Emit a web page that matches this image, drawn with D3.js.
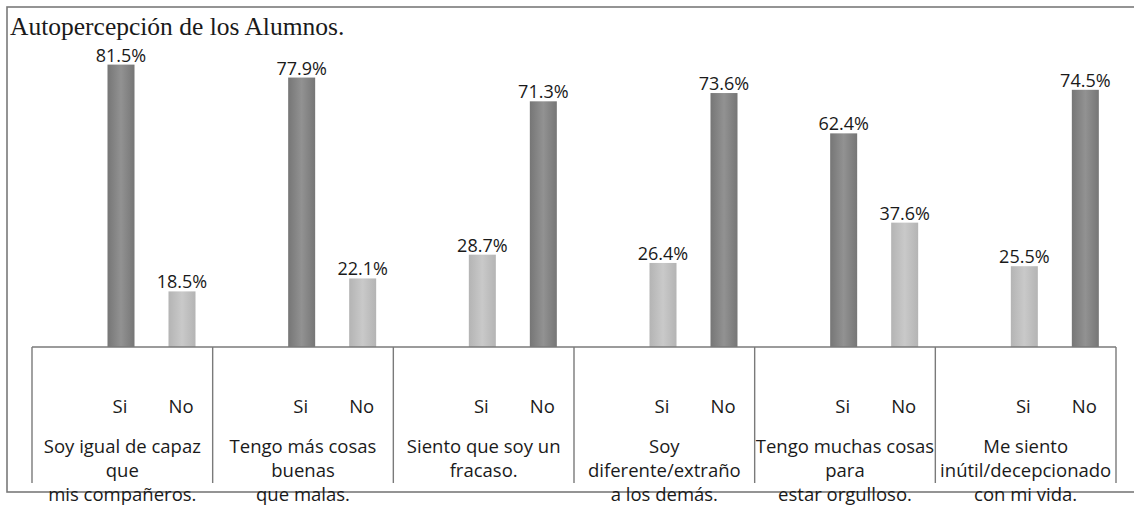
<!DOCTYPE html>
<html><head><meta charset="utf-8">
<script src="https://cdn.jsdelivr.net/npm/d3@7"></script>
<style>body{margin:0;background:#fff}svg{display:block}</style>
</head><body>
<svg id="chart" width="1134" height="509"></svg>
<script>
// ---- data ----
const chartTitle = "Autopercepción de los Alumnos.";
const categories = [
  "Soy igual de capaz que mis compañeros.",
  "Tengo más cosas buenas que malas.",
  "Siento que soy un fracaso.",
  "Soy diferente/extraño a los demás.",
  "Tengo muchas cosas para estar orgulloso.",
  "Me siento inútil/decepcionado con mi vida."
];
const categoryLines = [
  ["Soy igual de capaz", "que", "mis compañeros."],
  ["Tengo más cosas", "buenas", "que malas."],
  ["Siento que soy un", "fracaso."],
  ["Soy", "diferente/extraño", "a los demás."],
  ["Tengo muchas cosas", "para", "estar orgulloso."],
  ["Me siento", "inútil/decepcionado", "con mi vida."]
];
const answers = ["Si", "No"];
const siValues = [81.5, 77.9, 28.7, 26.4, 62.4, 25.5];
const noValues = [18.5, 22.1, 71.3, 73.6, 37.6, 74.5];

// ---- layout ----
const W = 1134, H = 509;
const frame = {x: 7, y: 7, bottom: 492};
const box = {left: 32, right: 1116, top: 347, bottom: 483};
const barW = 27;
const sansFont = "'Open Sans', 'Noto Sans', sans-serif";

const svg = d3.select("#chart");
const defs = svg.append("defs");
function grad(id, edge, mid) {
  const g = defs.append("linearGradient").attr("id", id)
    .attr("x1", "0%").attr("x2", "100%").attr("y1", "0%").attr("y2", "0%");
  g.append("stop").attr("offset", "0%").attr("stop-color", edge);
  g.append("stop").attr("offset", "50%").attr("stop-color", mid);
  g.append("stop").attr("offset", "100%").attr("stop-color", edge);
}
grad("gDark", "#767676", "#929292");
grad("gLight", "#b4b4b4", "#c9c9c9");

svg.append("rect").attr("width", W).attr("height", H).attr("fill", "#fff");

// frame
svg.append("rect")
  .attr("x", frame.x).attr("y", frame.y)
  .attr("width", W + 20).attr("height", frame.bottom - frame.y)
  .attr("fill", "none").attr("stroke", "#7a7a7a").attr("stroke-width", 1.6);

// title
svg.append("text")
  .attr("x", 10).attr("y", 35)
  .attr("font-family", "'Liberation Serif', 'Times New Roman', serif")
  .attr("font-size", 25.5).attr("fill", "#1a1a1a")
  .text(chartTitle);

// scales
const x0 = d3.scaleBand().domain(categories).range([box.left, box.right]);
const x1 = d3.scalePoint().domain(answers).range([89, 150]);
const y = d3.scaleLinear().domain([0, 100]).range([358, -2]);

const rows = categories.map((c, i) => ({
  cat: c, lines: categoryLines[i],
  vals: [{a: "Si", v: siValues[i]}, {a: "No", v: noValues[i]}]
}));
rows.forEach(r => {
  const mx = d3.max(r.vals, d => d.v);
  r.vals.forEach(d => { d.cat = r.cat; d.major = d.v === mx; });
});

const groups = svg.selectAll("g.grp").data(rows).join("g")
  .attr("class", "grp")
  .attr("transform", d => `translate(${x0(d.cat)},0)`);

// bars
groups.selectAll("rect.bar").data(d => d.vals).join("rect")
  .attr("class", "bar")
  .attr("x", d => x1(d.a) - barW / 2)
  .attr("y", d => y(d.v))
  .attr("width", barW)
  .attr("height", d => box.top - y(d.v))
  .attr("fill", d => d.major ? "url(#gDark)" : "url(#gLight)");

// value labels
const fmt = d3.format(".1f");
groups.selectAll("text.val").data(d => d.vals).join("text")
  .attr("class", "val")
  .attr("x", d => x1(d.a))
  .attr("y", d => y(d.v) - 3)
  .attr("text-anchor", "middle")
  .attr("font-family", sansFont).attr("font-size", 18)
  .attr("fill", "#1a1a1a")
  .text(d => fmt(d.v) + "%");

// category axis box
const axisG = svg.append("g").attr("stroke", "#7a7a7a").attr("stroke-width", 1.4);
axisG.append("line")
  .attr("x1", box.left).attr("x2", box.right)
  .attr("y1", box.top).attr("y2", box.top);
const edges = categories.map(c => x0(c)).concat([box.right]);
axisG.selectAll("line.div").data(edges).join("line")
  .attr("class", "div")
  .attr("x1", d => d).attr("x2", d => d)
  .attr("y1", box.top).attr("y2", box.bottom);

// Si / No labels
groups.selectAll("text.ans").data(d => d.vals).join("text")
  .attr("class", "ans")
  .attr("x", d => x1(d.a) - 1)
  .attr("y", 413)
  .attr("text-anchor", "middle")
  .attr("font-family", sansFont).attr("font-size", 18.5)
  .attr("fill", "#1a1a1a")
  .text(d => d.a);

// category labels
groups.each(function(d) {
  const g = d3.select(this);
  g.selectAll("text.cat").data(d.lines).join("text")
    .attr("class", "cat")
    .attr("x", x0.bandwidth() / 2)
    .attr("y", (t, i) => 453 + i * 24)
    .attr("text-anchor", "middle")
    .attr("font-family", sansFont).attr("font-size", 18.5)
    .attr("fill", "#1a1a1a")
    .text(t => t);
});
</script>
</body></html>
